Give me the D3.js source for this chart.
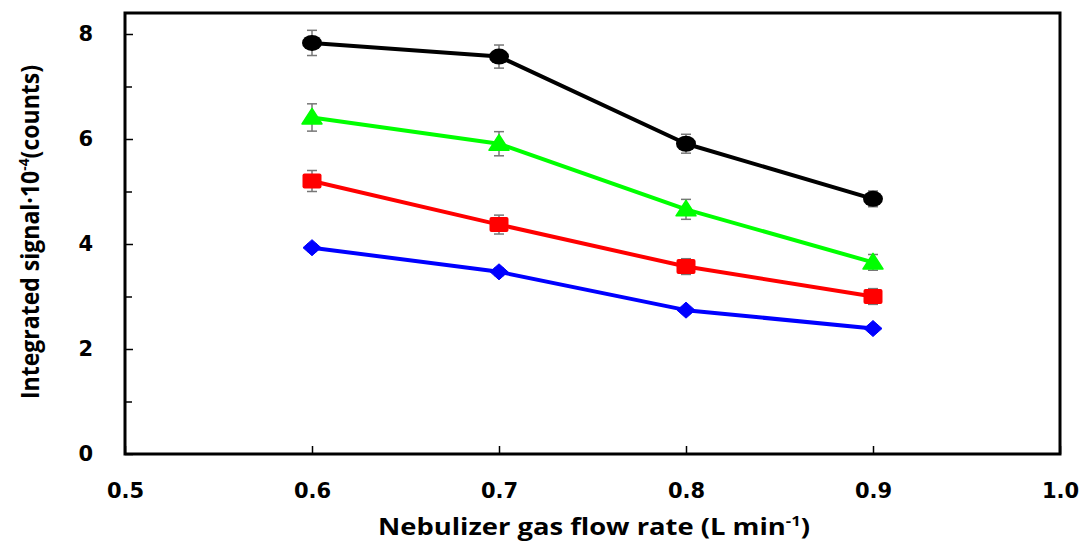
<!DOCTYPE html>
<html>
<head>
<meta charset="utf-8">
<script src="https://cdn.jsdelivr.net/npm/d3@7"></script>
<style>
  html, body { margin: 0; padding: 0; background: #fff; }
  svg { display: block; }
</style>
</head>
<body>
<svg id="chart" width="1088" height="543"></svg>
<script>
// Nebulizer gas flow rate (L/min)
const flowRates = [0.6, 0.7, 0.8, 0.9];

// Integrated signal ×10^-4 (counts) with standard deviations
const circleValues   = [7.83, 7.57, 5.91, 4.86];
const circleErrors   = [0.24, 0.22, 0.18, 0.15];
const triangleValues = [6.41, 5.91, 4.66, 3.65];
const triangleErrors = [0.26, 0.23, 0.19, 0.15];
const squareValues   = [5.20, 4.37, 3.57, 3.00];
const squareErrors   = [0.20, 0.18, 0.15, 0.15];
const diamondValues  = [3.93, 3.47, 2.74, 2.39];
const diamondErrors  = [0.07, 0.07, 0.06, 0.06];

const xTickValues = [0.5, 0.6, 0.7, 0.8, 0.9, 1.0];
const yTickValues = [0, 2, 4, 6, 8];
const yMinorTicks = [1, 3, 5, 7];

const svg = d3.select("#chart");
const plotLeft = 125, plotRight = 1060, plotTop = 13, plotBottom = 454;

const x = d3.scaleLinear().domain([0.5, 1.0]).range([plotLeft, plotRight]);
const y = d3.scaleLinear().domain([0, 8.4]).range([plotBottom, plotTop]);

const tickFont = "'DejaVu Sans', Verdana, sans-serif";
const titleFont = "'Open Sans', 'Noto Sans', sans-serif";

// Axes with inward ticks
const xAxis = svg.append("g")
  .attr("transform", `translate(0,${plotBottom})`)
  .call(d3.axisBottom(x).tickValues(xTickValues).tickSize(-8).tickPadding(29)
    .tickFormat(d3.format(".1f")));
const yAxis = svg.append("g")
  .attr("transform", `translate(${plotLeft},0)`)
  .call(d3.axisLeft(y).tickValues(yTickValues).tickSize(-8).tickPadding(32)
    .tickFormat(d3.format("d")));
const yMinor = svg.append("g")
  .attr("transform", `translate(${plotLeft},0)`)
  .call(d3.axisLeft(y).tickValues(yMinorTicks).tickSize(-7).tickFormat(""));

[xAxis, yAxis, yMinor].forEach(g => {
  g.select(".domain").remove();
  g.selectAll(".tick line").attr("stroke", "#000").attr("stroke-width", 1.5);
  g.selectAll("text")
    .attr("fill", "#000")
    .style("font-family", tickFont)
    .style("font-weight", "bold")
    .style("font-size", "21px");
});

// Plot frame
svg.append("rect")
  .attr("x", plotLeft).attr("y", plotTop)
  .attr("width", plotRight - plotLeft).attr("height", plotBottom - plotTop)
  .attr("fill", "none").attr("stroke", "#000").attr("stroke-width", 3);

const series = [
  { values: diamondValues,  errors: diamondErrors,  color: "#0000ff", shape: "diamond" },
  { values: squareValues,   errors: squareErrors,   color: "#ff0000", shape: "square" },
  { values: triangleValues, errors: triangleErrors, color: "#00ff00", shape: "triangle" },
  { values: circleValues,   errors: circleErrors,   color: "#000000", shape: "circle" }
];

const line = d3.line().x(d => x(d.x)).y(d => y(d.y));

series.forEach(s => {
  const pts = flowRates.map((fr, i) => ({ x: fr, y: s.values[i], e: s.errors[i] }));
  const g = svg.append("g");

  g.append("path").datum(pts)
    .attr("d", line)
    .attr("fill", "none")
    .attr("stroke", s.color)
    .attr("stroke-width", 4)
    .attr("stroke-linejoin", "round");

  // Error bars
  const eb = g.selectAll(".err").data(pts).join("g").attr("stroke", "#777").attr("stroke-width", 1.5);
  eb.append("line")
    .attr("x1", d => x(d.x)).attr("x2", d => x(d.x))
    .attr("y1", d => y(d.y + d.e)).attr("y2", d => y(d.y - d.e));
  eb.append("line")
    .attr("x1", d => x(d.x) - 5).attr("x2", d => x(d.x) + 5)
    .attr("y1", d => y(d.y + d.e)).attr("y2", d => y(d.y + d.e));
  eb.append("line")
    .attr("x1", d => x(d.x) - 5).attr("x2", d => x(d.x) + 5)
    .attr("y1", d => y(d.y - d.e)).attr("y2", d => y(d.y - d.e));

  // Markers
  const m = g.selectAll(".mk").data(pts).join("g")
    .attr("transform", d => `translate(${x(d.x)},${y(d.y)})`)
    .attr("fill", s.color);
  if (s.shape === "circle") {
    m.append("ellipse").attr("rx", 10).attr("ry", 8);
  } else if (s.shape === "square") {
    m.append("rect").attr("x", -9.5).attr("y", -7.5).attr("width", 19).attr("height", 15).attr("rx", 2);
  } else if (s.shape === "triangle") {
    m.append("path").attr("d", "M0,-9 L10,6.5 L-10,6.5 Z").attr("stroke", s.color).attr("stroke-width", 1.5).attr("stroke-linejoin", "round");
  } else {
    m.append("path").attr("d", "M0,-8 L9,0 L0,8 L-9,0 Z").attr("stroke", s.color).attr("stroke-width", 1).attr("stroke-linejoin", "round");
  }
});

// Axis titles
const xTitle = svg.append("text")
  .attr("x", 594).attr("y", 535)
  .attr("text-anchor", "middle")
  .attr("textLength", 432).attr("lengthAdjust", "spacingAndGlyphs")
  .style("font-family", titleFont).style("font-weight", "bold").style("font-size", "23px");
xTitle.append("tspan").text("Nebulizer gas flow rate (L min");
xTitle.append("tspan").attr("dy", -9).style("font-size", "14px").text("-1");
xTitle.append("tspan").attr("dy", 9).text(")");

const yTitle = svg.append("text")
  .attr("transform", "translate(39,232) rotate(-90)")
  .attr("text-anchor", "middle")
  .attr("textLength", 334).attr("lengthAdjust", "spacingAndGlyphs")
  .style("font-family", titleFont).style("font-weight", "bold").style("font-size", "25px");
yTitle.append("tspan").text("Integrated signal·10");
yTitle.append("tspan").attr("dy", -10).style("font-size", "15px").text("-4");
yTitle.append("tspan").attr("dy", 10).text("(counts)");
</script>
</body>
</html>
